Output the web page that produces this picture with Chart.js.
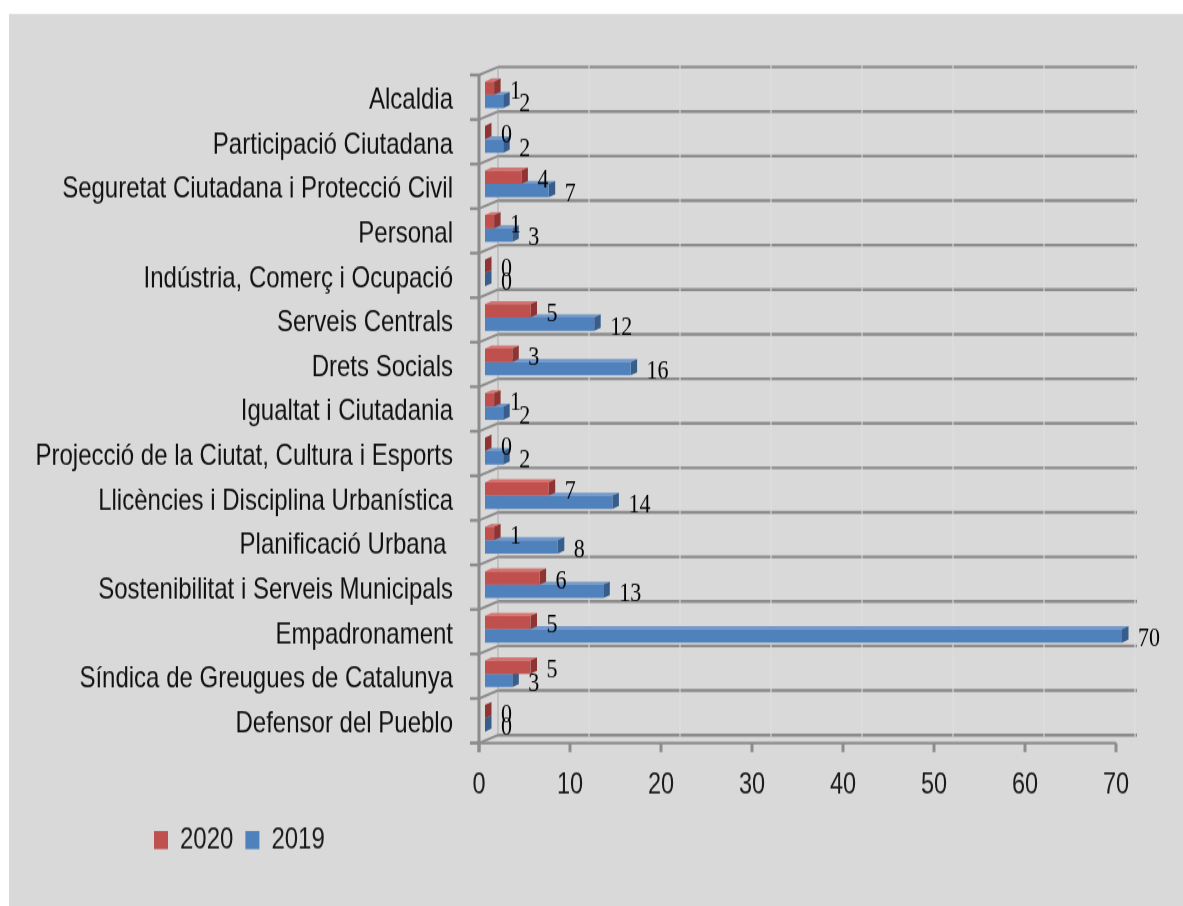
<!DOCTYPE html>
<html><head><meta charset="utf-8">
<script src="https://cdn.jsdelivr.net/npm/chart.js@4.4.1/dist/chart.umd.min.js"></script>
<style>
html,body{margin:0;padding:0;background:#fff;overflow:hidden}
#c{display:block;width:1183px !important;height:906px !important}
</style>
</head><body><canvas id="c" width="1183" height="725"></canvas>
<script>
const categories = [
  'Alcaldia',
  'Participació Ciutadana',
  'Seguretat Ciutadana i Protecció Civil',
  'Personal',
  'Indústria, Comerç i Ocupació',
  'Serveis Centrals',
  'Drets Socials',
  'Igualtat i Ciutadania',
  'Projecció de la Ciutat, Cultura i Esports',
  'Llicències i Disciplina Urbanística',
  'Planificació Urbana ',
  'Sostenibilitat i Serveis Municipals',
  'Empadronament',
  'Síndica de Greugues de Catalunya',
  'Defensor del Pueblo'
];
const values2020 = [1, 0, 4, 1, 0, 5, 3, 1, 0, 7, 1, 6, 5, 5, 0];
const values2019 = [2, 2, 7, 3, 0, 12, 16, 2, 2, 14, 8, 13, 70, 3, 0];
const seriesNames = ['2020', '2019'];
const xTicks = [0, 10, 20, 30, 40, 50, 60, 70];

const SANS = "'Liberation Sans', Arial, sans-serif";
const SERIF = "'Liberation Serif', 'Times New Roman', serif";
const faceColors = [
  {front: '#c0504d', top: '#d4736f', side: '#8e3533'},
  {front: '#4f81bd', top: '#7299cb', side: '#375d8b'}
];
const FRONT = {x: -6, y: 2};
const BACK = {x: 13, y: -4.4};
const DEPTH = {x: 6.5, y: 2.4};
const TICK_V = 7.2, TICK_H = 9;

const frame3d = {
  id: 'frame3d',
  afterLayout(chart) {
    if (chart.legend) chart.legend.left = 142;
  },
  beforeDraw(chart) {
    const ctx = chart.ctx;
    ctx.save();
    ctx.fillStyle = '#ffffff';
    ctx.fillRect(0, 0, chart.width, chart.height);
    ctx.fillStyle = '#d9d9d9';
    ctx.fillRect(9, 11.2, chart.width - 9, chart.height - 11.2);
    ctx.restore();
  },
  beforeDatasetsDraw(chart) {
    const ctx = chart.ctx;
    const xs = chart.scales.x, ys = chart.scales.y;
    const n = categories.length;
    const bounds = [];
    for (let k = 0; k <= n; k++) bounds.push(ys.getPixelForValue(k - 0.5));
    const x0 = xs.getPixelForValue(xTicks[0]);
    const xMax = xs.getPixelForValue(xTicks[xTicks.length - 1]);
    const top = bounds[0], bottom = bounds[n];
    ctx.save();
    // back wall vertical grid lines (very faint)
    ctx.strokeStyle = '#dfdfdf';
    ctx.lineWidth = 1;
    xTicks.forEach(v => {
      const px = xs.getPixelForValue(v) + BACK.x;
      ctx.beginPath(); ctx.moveTo(px, top + BACK.y); ctx.lineTo(px, bottom + BACK.y); ctx.stroke();
    });
    // back wall horizontal grid lines
    ctx.strokeStyle = '#8c8c8c';
    ctx.lineWidth = 2.4;
    bounds.forEach(b => {
      ctx.beginPath(); ctx.moveTo(x0 + BACK.x, b + BACK.y); ctx.lineTo(xMax + BACK.x + 2, b + BACK.y); ctx.stroke();
    });
    // small gaps where vertical lines cross
    ctx.strokeStyle = '#d6d6d6';
    ctx.lineWidth = 1.2;
    xTicks.slice(1).forEach(v => {
      const px = xs.getPixelForValue(v) + BACK.x;
      bounds.forEach(b => {
        ctx.beginPath(); ctx.moveTo(px, b + BACK.y - 1.6); ctx.lineTo(px, b + BACK.y + 1.6); ctx.stroke();
      });
    });
    // back wall left edge
    ctx.strokeStyle = '#a6a6a6';
    ctx.lineWidth = 1;
    ctx.beginPath(); ctx.moveTo(x0 + BACK.x, top + BACK.y); ctx.lineTo(x0 + BACK.x, bottom + BACK.y); ctx.stroke();
    // left wall diagonals
    ctx.strokeStyle = '#8c8c8c';
    ctx.lineWidth = 2;
    bounds.forEach(b => {
      ctx.beginPath(); ctx.moveTo(x0 + FRONT.x, b + FRONT.y); ctx.lineTo(x0 + BACK.x, b + BACK.y); ctx.stroke();
    });
    // front left axis + ticks
    ctx.lineWidth = 3;
    ctx.beginPath(); ctx.moveTo(x0 + FRONT.x, top + FRONT.y); ctx.lineTo(x0 + FRONT.x, bottom + FRONT.y + TICK_V); ctx.stroke();
    ctx.lineWidth = 2.4;
    bounds.forEach(b => {
      ctx.beginPath(); ctx.moveTo(x0 + FRONT.x - TICK_H, b + FRONT.y); ctx.lineTo(x0 + FRONT.x, b + FRONT.y); ctx.stroke();
    });
    // front bottom axis + ticks
    ctx.beginPath(); ctx.moveTo(x0 + FRONT.x - TICK_H, bottom + FRONT.y); ctx.lineTo(xMax + FRONT.x, bottom + FRONT.y); ctx.stroke();
    ctx.lineWidth = 3;
    xTicks.forEach(v => {
      const px = xs.getPixelForValue(v) + FRONT.x;
      ctx.beginPath(); ctx.moveTo(px, bottom + FRONT.y); ctx.lineTo(px, bottom + FRONT.y + TICK_V); ctx.stroke();
    });
    // 3D faces of bars (drawn beneath front faces), lower series first
    for (let d = chart.data.datasets.length - 1; d >= 0; d--) {
      const meta = chart.getDatasetMeta(d);
      const col = faceColors[d];
      meta.data.forEach(el => {
        const p = el.getProps(['x', 'y', 'base', 'height'], true);
        const t = p.y - p.height / 2, btm = p.y + p.height / 2;
        ctx.fillStyle = col.top;
        ctx.beginPath();
        ctx.moveTo(p.base, t); ctx.lineTo(p.x, t); ctx.lineTo(p.x + DEPTH.x, t - DEPTH.y); ctx.lineTo(p.base + DEPTH.x, t - DEPTH.y);
        ctx.closePath(); ctx.fill();
        ctx.fillStyle = col.side;
        ctx.beginPath();
        ctx.moveTo(p.x, t); ctx.lineTo(p.x + DEPTH.x, t - DEPTH.y); ctx.lineTo(p.x + DEPTH.x, btm - DEPTH.y); ctx.lineTo(p.x, btm);
        ctx.closePath(); ctx.fill();
      });
    }
    ctx.restore();
  },
  afterDatasetsDraw(chart) {
    const ctx = chart.ctx;
    ctx.save();
    ctx.fillStyle = '#000000';
    ctx.font = '22px ' + SERIF;
    ctx.textAlign = 'left';
    ctx.textBaseline = 'middle';
    chart.data.datasets.forEach((ds, d) => {
      const meta = chart.getDatasetMeta(d);
      meta.data.forEach((el, i) => {
        const p = el.getProps(['x', 'y'], true);
        ctx.fillText(String(ds.data[i]), p.x + 16, p.y + 2.4);
      });
    });
    ctx.restore();
  }
};

new Chart(document.getElementById('c'), {
  type: 'bar',
  data: {
    labels: categories,
    datasets: [
      {label: seriesNames[0], data: values2020, backgroundColor: faceColors[0].front, borderWidth: 0},
      {label: seriesNames[1], data: values2019, backgroundColor: faceColors[1].front, borderWidth: 0}
    ]
  },
  options: {
    indexAxis: 'y',
    responsive: false,
    maintainAspectRatio: false,
    devicePixelRatio: 1,
    animation: false,
    events: [],
    datasets: {bar: {categoryPercentage: 0.6, barPercentage: 1.0}},
    layout: {padding: {left: 20, top: 58, right: 61, bottom: 30.8}},
    scales: {
      x: {
        type: 'linear', min: 0, max: 70,
        afterBuildTicks(scale) { scale.ticks = xTicks.map(v => ({value: v})); },
        afterFit(scale) { scale.height = 55.6; },
        grid: {display: false, drawTicks: false},
        border: {display: false},
        ticks: {font: {family: SANS, size: 23.5}, color: '#1a1a1a', padding: 21.5, labelOffset: -6, maxRotation: 0}
      },
      y: {
        type: 'category',
        afterFit(scale) { scale.width = 465; },
        grid: {display: false, drawTicks: false},
        border: {display: false},
        ticks: {font: {family: SANS, size: 24}, color: '#111111', padding: 32, labelOffset: 4.5, autoSkip: false}
      }
    },
    plugins: {
      tooltip: {enabled: false},
      legend: {
        position: 'bottom', align: 'start',
        labels: {font: {family: SANS, size: 24}, color: '#1a1a1a', boxWidth: 14, boxHeight: 14.4, padding: 12}
      }
    }
  },
  plugins: [frame3d]
});
</script>
</body></html>
